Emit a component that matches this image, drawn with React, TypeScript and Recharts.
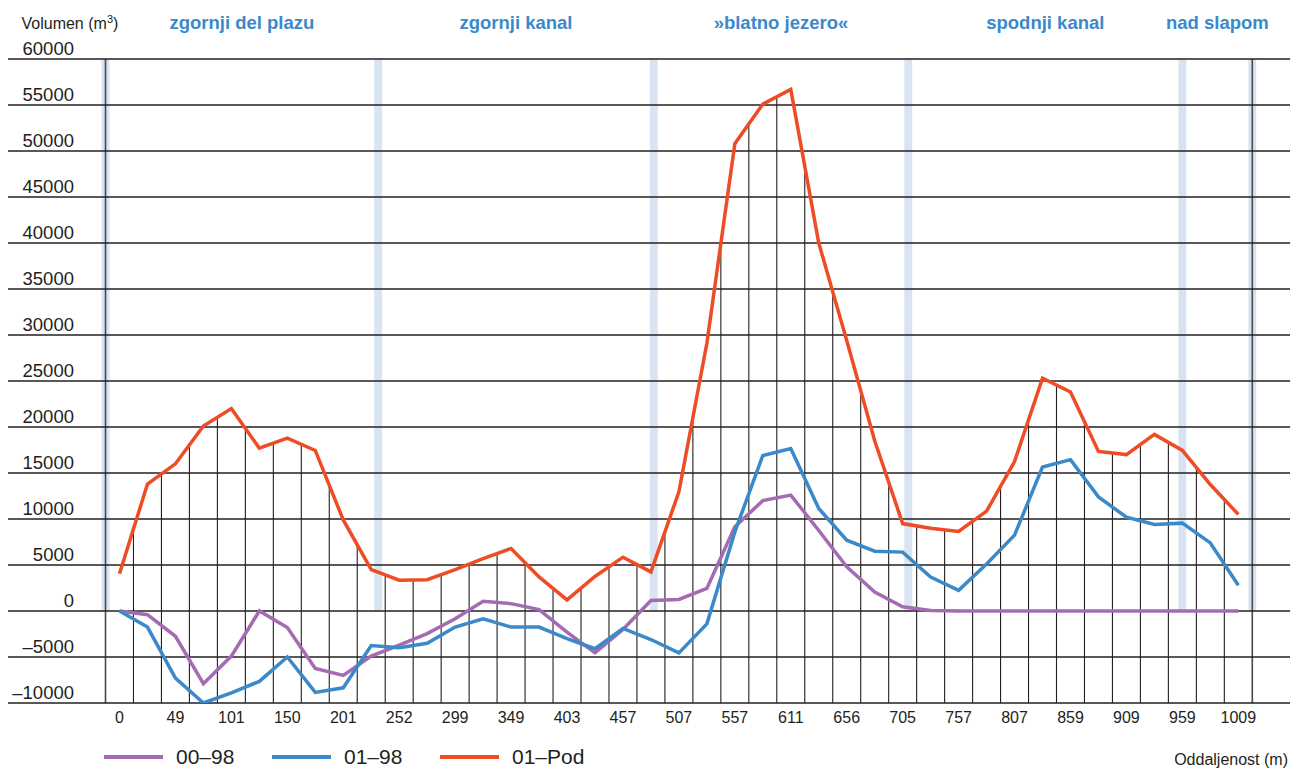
import React from 'react';
import {
  LineChart,
  Line,
  XAxis,
  YAxis,
  ReferenceLine,
  ReferenceArea,
  ReferenceDot,
  Legend,
} from 'recharts';

// ---------- data ----------
const distanceTicks = ['0', '49', '101', '150', '201', '252', '299', '349', '403', '457', '507', '557', '611', '656', '705', '757', '807', '859', '909', '959', '1009'];

const volume0098 = [
  0, -400, -2750, -7900, -4900, 0, -1800, -6250, -7000, -4900,
  -3700, -2450, -850, 1050, 800, 150, -2300, -4550, -2000, 1150,
  1250, 2450, 9150, 12000, 12600, 8750, 4800, 2050, 450, 50,
  0, 0, 0, 0, 0, 0, 0, 0, 0, 0, 0,
];

const volume0198 = [
  0, -1750, -7300, -10000, -8900, -7650, -5000, -8850, -8350, -3750,
  -4000, -3500, -1750, -850, -1750, -1750, -3000, -4100, -1900, -3100,
  -4550, -1400, 8600, 16900, 17650, 11150, 7700, 6500, 6400, 3700,
  2250, 5100, 8250, 15650, 16450, 12400, 10200, 9400, 9550, 7400, 2800,
];

const volume01Pod = [
  4050, 13800, 16000, 20100, 22000, 17700, 18800, 17450, 9900, 4500,
  3350, 3400, 4500, 5700, 6800, 3700, 1200, 3750, 5850, 4250,
  12950, 29100, 50800, 55100, 56700, 40000, 29400, 18500, 9500, 9000,
  8650, 10850, 16250, 25300, 23800, 17350, 17000, 19200, 17450, 13750, 10500,
];

const sectionNames = ['zgornji del plazu', 'zgornji kanal', '»blatno jezero«', 'spodnji kanal', 'nad slapom'];
const sectionBounds = [-0.5, 9.25, 19.1, 28.2, 38.0, 40.5];

const yTicks = [-10000, -5000, 0, 5000, 10000, 15000, 20000, 25000, 30000, 35000, 40000, 45000, 50000, 55000, 60000];

const seriesNames = ['00–98', '01–98', '01–Pod'];
const seriesKeys = ['a', 'b', 'c'];
const seriesColors = ['#a46bb3', '#3b89c9', '#ef4b24'];

const yTitle = 'Volumen (m';
const xTitle = 'Oddaljenost (m)';

const data = volume0098.map((v, i) => ({ i, a: v, b: volume0198[i], c: volume01Pod[i] }));
const tickIndexes = distanceTicks.map((_, k) => k * 2);

// ---------- styles ----------
const FONT = '"Liberation Sans", Arial, Helvetica, sans-serif';
const INK = '#231f20';
const BAND = '#d8e4f2';
const SECTION_BLUE = '#3a89cc';

const fmtTick = (v: number) => (v < 0 ? '–' + Math.abs(v) : String(v));

const makeGridLabel = (v: number, isTop: boolean) => (props: any) => {
  const vb = props.viewBox || { x: 8, y: 0 };
  return (
    <g>
      <text x={vb.x + 66} y={vb.y - 4} textAnchor="end" fontSize={18.5} fill={INK} fontFamily={FONT}>
        {fmtTick(v)}
      </text>
      {isTop ? (
        <text x={vb.x + 13.5} y={vb.y - 30} fontSize={16} fill={INK} fontFamily={FONT}>
          {yTitle}
          <tspan dy={-6} fontSize={11}>3</tspan>
          <tspan dy={6}>)</tspan>
        </text>
      ) : null}
    </g>
  );
};

const XTick = (props: any) => {
  const { x, y, payload } = props;
  const label = distanceTicks[Math.round(Number(payload.value) / 2)];
  return (
    <text x={x} y={y + 12} textAnchor="middle" fontSize={16} fill={INK} fontFamily={FONT}>
      {label}
    </text>
  );
};

const XTitle = (props: any) => {
  const vb = props.viewBox || { x: 8, y: 703, width: 1282 };
  return (
    <text x={vb.x + vb.width - 2} y={vb.y + 62} textAnchor="end" fontSize={16} fill={INK} fontFamily={FONT}>
      {xTitle}
    </text>
  );
};

const renderLegend = () => (
  <div style={{ position: 'relative', width: 700, height: 24, fontFamily: FONT }}>
    {seriesNames.map((name, k) => (
      <div
        key={name}
        style={{ position: 'absolute', left: 104 + 168 * k, top: 0, height: 24, display: 'flex', alignItems: 'center' }}
      >
        <span style={{ display: 'inline-block', width: 59, height: 4, background: seriesColors[k] }} />
        <span style={{ marginLeft: 13, fontSize: 21, lineHeight: '24px', color: INK, whiteSpace: 'nowrap' }}>{name}</span>
      </div>
    ))}
  </div>
);

export default function App() {
  const dropLines = [];
  for (let k = 0; k < volume01Pod.length - 1; k++) {
    dropLines.push({ x: k + 0.5, top: (volume01Pod[k] + volume01Pod[k + 1]) / 2 });
  }
  const edges = [sectionBounds[0], sectionBounds[sectionBounds.length - 1]];
  const yMax = yTicks[yTicks.length - 1];

  return (
    <div style={{ position: 'absolute', left: 0, top: 0, width: 1290, height: 769, fontFamily: FONT, background: '#fff' }}>
      <LineChart width={1290} height={769} data={data} margin={{ top: 59, right: 0, bottom: 12, left: 8 }}>
        <XAxis
          type="number"
          dataKey="i"
          domain={[-3.986, 41.848]}
          allowDataOverflow
          ticks={tickIndexes}
          interval={0}
          tick={<XTick />}
          axisLine={false}
          tickLine={false}
          height={30}
          label={{ content: <XTitle /> } as any}
        />
        <YAxis
          type="number"
          domain={[-10000, 60000]}
          allowDataOverflow
          ticks={yTicks}
          interval={0}
          tick={false}
          width={0}
          axisLine={false}
          tickLine={false}
        />

        {sectionBounds.map((b) => (
          <ReferenceArea
            key={'band' + b}
            x1={b - 0.14}
            x2={b + 0.14}
            y1={0}
            y2={yMax}
            fill={BAND}
            fillOpacity={1}
            stroke="none"
            ifOverflow="visible"
          />
        ))}

        {dropLines.map((d) => (
          <ReferenceLine
            key={'drop' + d.x}
            segment={[{ x: d.x, y: -10000 }, { x: d.x, y: d.top }]}
            stroke={INK}
            strokeWidth={1.1}
            ifOverflow="visible"
          />
        ))}

        {edges.map((e) => (
          <ReferenceLine
            key={'edge' + e}
            segment={[{ x: e, y: -10000 }, { x: e, y: yMax }]}
            stroke="#4a4a4a"
            strokeWidth={1.6}
            ifOverflow="visible"
          />
        ))}

        {yTicks.map((v) => (
          <ReferenceLine
            key={'h' + v}
            y={v}
            stroke={INK}
            strokeWidth={1.6}
            ifOverflow="visible"
            label={{ content: makeGridLabel(v, v === yMax) } as any}
          />
        ))}

        {sectionNames.map((name, k) => (
          <ReferenceDot
            key={name}
            x={(sectionBounds[k] + sectionBounds[k + 1]) / 2}
            y={yMax}
            r={0}
            fill="none"
            stroke="none"
            ifOverflow="visible"
            label={{
              value: name,
              position: 'top',
              offset: 30,
              fill: SECTION_BLUE,
              fontSize: 18.5,
              fontWeight: 'bold',
              fontFamily: FONT,
            }}
          />
        ))}

        {seriesKeys.map((key, k) => (
          <Line
            key={key}
            type="linear"
            dataKey={key}
            name={seriesNames[k]}
            stroke={seriesColors[k]}
            strokeWidth={3.5}
            dot={false}
            activeDot={false}
            isAnimationActive={false}
            strokeLinejoin="miter"
          />
        ))}

        <Legend
          verticalAlign="bottom"
          align="left"
          content={renderLegend}
          wrapperStyle={{ left: 0, top: 745, bottom: 'auto', width: 700, height: 24 }}
        />
      </LineChart>
    </div>
  );
}
